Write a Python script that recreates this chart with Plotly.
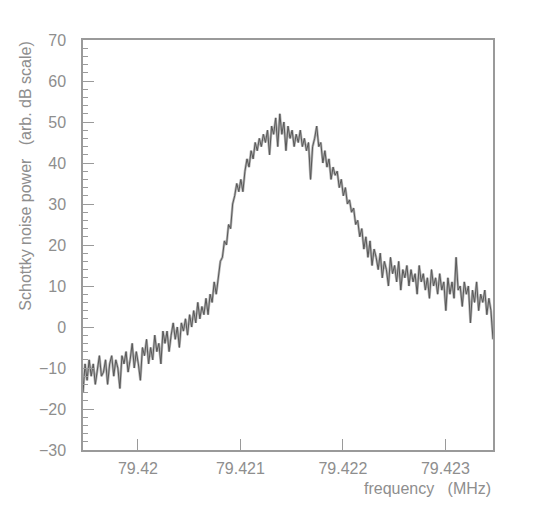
import plotly.graph_objects as go

# frequency bins (MHz)
f_start = 79.419464
f_step = 0.00002

# Schottky noise power (arb. dB scale)
power = [
    -16, -9, -13, -8, -12, -9, -14, -10, -7, -12,
    -11, -8, -14, -9, -7, -12, -8, -10, -15, -7,
    -9, -6, -11, -8, -4, -10, -6, -9, -13, -5,
    -7, -3, -9, -5, -8, -2, -6, -4, -9, -1,
    -4, -1, -6, -2, 1, -3, 0, -5, 1, -1,
    2, -2, 3, 0, 4, 1, 6, 2, 5, 3,
    7, 3, 8, 6, 11, 8, 12, 16, 17, 21,
    20, 25, 24, 30, 32, 35, 33, 36, 33, 38,
    41, 39, 43, 41, 45, 43, 46, 44, 47, 45,
    48, 42, 49, 47, 51, 44, 52, 47, 50, 43,
    49, 46, 48, 44, 47, 45, 48, 44, 46, 43,
    45, 36, 44, 46, 49, 44, 45, 40, 43, 39,
    41, 36, 39, 37, 38, 34, 36, 32, 34, 30,
    31, 28, 29, 25, 26, 22, 24, 19, 22, 17,
    21, 15, 19, 17, 14, 18, 12, 16, 14, 10,
    17, 13, 15, 11, 16, 9, 14, 12, 15, 10,
    14, 11, 13, 8, 15, 11, 13, 9, 12, 7,
    14, 10, 12, 8, 13, 9, 11, 4, 12, 8,
    11, 7, 17, 9, 10, 5, 11, 8, 10, 1,
    9, 6, 11, 4, 8, 6, 9, 3, 7, 4,
    -3,
]
freq = [f_start + i * f_step for i in range(len(power))]

x_ticks = [79.42, 79.421, 79.422, 79.423]
x_labels = ["79.42", "79.421", "79.422", "79.423"]

axis_col = "#9a9a9a"
text_col = "#8e8e8e"
fnt = "Liberation Sans"

fig = go.Figure()
# light band underneath, dark line on top
fig.add_trace(go.Scatter(x=freq, y=power, mode="lines",
                         line=dict(color="#b4b4b4", width=2.5)))
fig.add_trace(go.Scatter(x=freq, y=power, mode="lines",
                         line=dict(color="#585858", width=1)))

fig.update_xaxes(range=[f_start, freq[-1]], showgrid=False, zeroline=False,
                 showline=True, linecolor=axis_col, linewidth=1.5, mirror=True,
                 ticks="inside", ticklen=11, tickcolor=axis_col,
                 tickvals=x_ticks, ticktext=x_labels, ticklabelstandoff=3,
                 tickfont=dict(family=fnt, size=16, color=text_col))
fig.update_yaxes(range=[-30, 70], dtick=10, showgrid=False, zeroline=False,
                 showline=True, linecolor=axis_col, linewidth=1.5, mirror=True,
                 ticks="inside", ticklen=11, tickcolor=axis_col,
                 minor=dict(dtick=2, ticks="inside", ticklen=5, tickcolor=axis_col),
                 ticklabelstandoff=12,
                 tickfont=dict(family=fnt, size=16, color=text_col))

fig.add_annotation(text="Schottky noise power   (arb. dB scale)", textangle=-90,
                   xref="paper", yref="paper", x=-0.141, y=1.0,
                   xanchor="center", yanchor="top", showarrow=False,
                   font=dict(family=fnt, size=16, color=text_col))
fig.add_annotation(text="frequency   (MHz)",
                   xref="paper", yref="paper", x=1.0, y=-0.093,
                   xanchor="right", yanchor="middle", showarrow=False,
                   font=dict(family=fnt, size=16, color=text_col))

# page body has an 8px margin, so the margins are shifted to compensate
fig.update_layout(width=545, height=513, showlegend=False,
                  margin=dict(l=75, r=60, t=32, b=71),
                  plot_bgcolor="white", paper_bgcolor="white")
fig.write_html("out.html")
